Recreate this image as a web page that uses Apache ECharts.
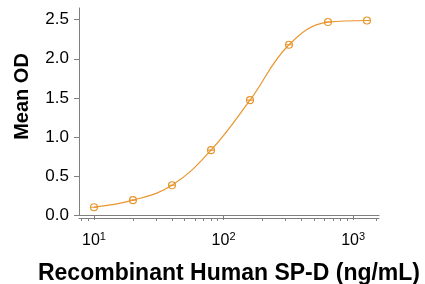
<!DOCTYPE html>
<html>
<head>
<meta charset="UTF-8">
<title>SP-D</title>
<script src="https://cdn.jsdelivr.net/npm/echarts@6/dist/echarts.min.js"></script>
<style>html,body{margin:0;padding:0;background:#fff}#demo{width:425px;height:284px}</style>
</head>
<body>
<div id="demo"></div>
<script>
// concentration (ng/mL) and mean OD
var conc = [10, 20, 40, 80, 160, 320, 640, 1280];
var meanOD = [0.10, 0.19, 0.38, 0.83, 1.47, 2.18, 2.47, 2.49];
var yTicks = [0, 0.5, 1.0, 1.5, 2.0, 2.5];
var xMajor = [10, 100, 1000];
var xMinor = [8, 9, 20, 30, 40, 50, 60, 70, 80, 90, 200, 300, 400, 500, 600, 700, 800, 900, 1500];
var supLabel = {10: '1', 100: '2', 1000: '3'};

var orange = '#E8962E';
var grey = '#7f7f7f';
var font = 'Liberation Sans, Arial, sans-serif';

var chart = echarts.init(document.getElementById('demo'));

var pts = conc.map(function (c, i) { return [c, meanOD[i]]; });

var xBase = {
    type: 'log', logBase: 10, min: 7.66, max: 1585,
    position: 'bottom', offset: 3,
    axisLine: {show: true, lineStyle: {color: grey, width: 1}},
    splitLine: {show: false},
    minorTick: {show: false}
};

option = {
    animation: false,
    grid: {left: 79, right: 46, top: 8, bottom: 69, containLabel: false, outerBoundsMode: 'none'},
    xAxis: [
        Object.assign({}, xBase, {
            name: 'Recombinant Human SP-D (ng/mL)',
            nameLocation: 'middle', nameGap: 44,
            nameTextStyle: {fontFamily: font, fontSize: 23, fontWeight: 'bold', color: '#000'},
            axisTick: {show: true, length: 5, lineStyle: {color: grey}, customValues: xMajor},
            axisLabel: {
                margin: 13, customValues: xMajor,
                formatter: function (v) { return '10{s|' + supLabel[Math.round(v)] + '}'; },
                fontFamily: font, fontSize: 16, color: '#000',
                rich: {s: {fontFamily: font, fontSize: 11, color: '#000', padding: [0, 0, 9, 0]}}
            }
        }),
        Object.assign({}, xBase, {
            axisTick: {show: true, length: 3, lineStyle: {color: grey}, customValues: xMinor},
            axisLabel: {show: false}
        })
    ],
    yAxis: {
        type: 'value', min: 0, max: 2.65,
        name: 'Mean OD', nameLocation: 'middle', nameGap: 47,
        nameTextStyle: {fontFamily: font, fontSize: 20, fontWeight: 'bold', color: '#000', padding: [0, 0, 0, 30]},
        axisLine: {show: true, lineStyle: {color: grey, width: 1}},
        axisTick: {show: true, length: 5, lineStyle: {color: grey}, customValues: yTicks},
        axisLabel: {
            margin: 10, customValues: yTicks, fontFamily: font, fontSize: 17, color: '#000',
            formatter: function (v) { return v.toFixed(1); }
        },
        splitLine: {show: false}
    },
    series: [{
        type: 'line',
        data: pts,
        smooth: 0.4,
        symbol: 'path://M0,5A5,5 0 1,1 10,5A5,5 0 1,1 0,5ZM0,5L10,5',
        symbolSize: 7,
        lineStyle: {color: orange, width: 1.2},
        itemStyle: {color: 'rgba(255,255,255,0)', borderColor: orange, borderWidth: 1.1}
    }]
};
chart.setOption(option);
</script>
</body>
</html>
